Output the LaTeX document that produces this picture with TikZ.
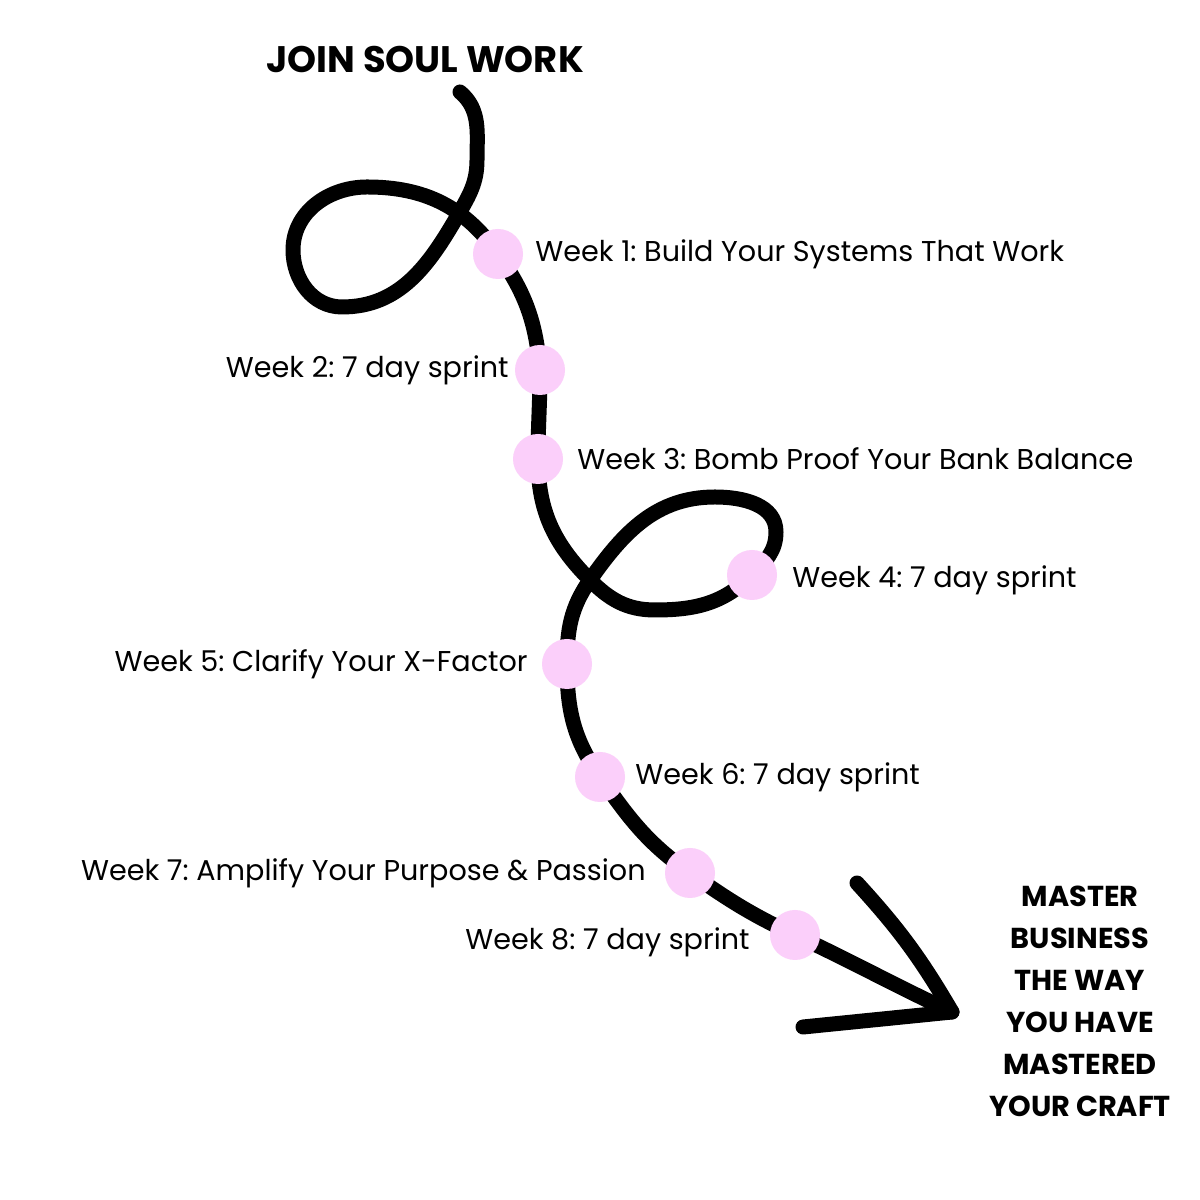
\documentclass[tikz,border=0pt]{standalone}
\usepackage{fontspec}
\setmainfont{Poppins}
\usetikzlibrary{positioning}
\definecolor{DotPink}{RGB}{251,207,250}
\definecolor{InkBlack}{RGB}{0,0,0}
\frenchspacing

\begin{document}
\begin{tikzpicture}[x=0.1mm,y=0.1mm,node distance=1.2mm,
	trail/.style={draw=InkBlack,line width=1.5mm,line cap=round,line join=round},
	dotw/.style={circle,fill=DotPink,minimum size=5mm,inner sep=0pt},
	weeklbl/.style={inner sep=0pt,font=\fontsize{8.15}{10}\selectfont},
	heading/.style={inner sep=0pt,font=\bfseries\fontsize{10.5}{12}\selectfont},
	goallbl/.style={inner sep=0pt,align=center,font=\bfseries\fontsize{8.2}{11.95}\selectfont}]
	
	\fill[white] (0,0) rectangle (1200,1200);
	\useasboundingbox (0,0) rectangle (1200,1200);
	
	% points of the road
	\coordinate (S) at (460,1108);
	\coordinate (p1) at (498,946);
	\coordinate (p2) at (540,830);
	\coordinate (p3) at (538,741);
	\coordinate (p4) at (752,625);
	\coordinate (p5) at (567,536);
	\coordinate (p6) at (600,423);
	\coordinate (p7) at (690,327);
	\coordinate (p8) at (795,265);
	\coordinate (T) at (952,188);
	\coordinate (H1) at (857,317);
	\coordinate (H2) at (803,173);
	\coordinate (X2) at (590,620);
	
	% the road
	\draw[trail] (S) to[out=-40,in=90] (477,1040) to[out=270,in=60] (458,985)
	to[out=240,in=0] (342,893) to[out=180,in=270] (293,950)
	to[out=90,in=180] (367,1013) to[out=0,in=125] (p1)
	to[out=-55,in=95] (p2) to[out=270,in=90] (p3)
	to[out=270,in=135] (X2) to[out=-45,in=180] (655,590)
	to[out=0,in=225] (p4) to[out=45,in=270] (776,668)
	to[out=90,in=0] (715,703) to[out=180,in=55] (X2)
	to[out=235,in=90] (p5) to[out=270,in=125] (p6)
	to[out=-55,in=145] (p7) to[out=-35,in=155] (p8)
	to[out=-25,in=155] (T);
	\draw[trail] (H1) to[bend left=6] (T) -- (H2);
	
	% week stops
	\node[dotw] (w1) at (p1) {};
	\node[dotw] (w2) at (p2) {};
	\node[dotw] (w3) at (p3) {};
	\node[dotw] (w4) at (p4) {};
	\node[dotw] (w5) at (p5) {};
	\node[dotw] (w6) at (p6) {};
	\node[dotw] (w7) at (p7) {};
	\node[dotw] (w8) at (p8) {};
	
	\node[weeklbl,right=1.1mm of w1] (l1) {Week 1: Build Your Systems That Work};
	\node[weeklbl,left=0.5mm of w2] (l2) {Week 2: 7 day sprint};
	\node[weeklbl,right=1.3mm of w3] (l3) {Week 3: Bomb Proof Your Bank Balance};
	\node[weeklbl,right=1.4mm of w4,yshift=-0.5mm] (l4) {Week 4: 7 day sprint};
	\node[weeklbl,left=1.3mm of w5] (l5) {Week 5: Clarify Your X-Factor};
	\node[weeklbl,right=0.9mm of w6] (l6) {Week 6: 7 day sprint};
	\node[weeklbl,left=1.8mm of w7] (l7) {Week 7: Amplify Your Purpose \& Passion};
	\node[weeklbl,left=1.9mm of w8,yshift=-0.7mm] (l8) {Week 8: 7 day sprint};
	
	\node[heading] (join) at (425,1140) {JOIN SOUL WORK};
	\node[goallbl] (goal) at (1080,199) {MASTER\\BUSINESS\\THE WAY\\YOU HAVE\\MASTERED\\YOUR CRAFT};
	
\end{tikzpicture}
\end{document}
